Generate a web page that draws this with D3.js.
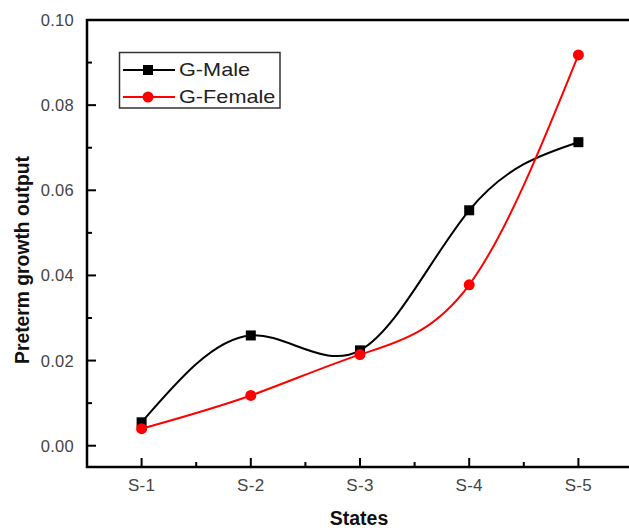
<html>
<head>
    <script src="https://d3js.org/d3.v7.min.js"></script>
    <style>
        body { margin: 0; background: #fff; }
    </style>
</head>
<body>
    <div id="vis"></div>
<script>
    // data
    var states = ["S-1", "S-2", "S-3", "S-4", "S-5"];
    var maleValues = [0.0055, 0.0259, 0.0224, 0.0553, 0.0713];
    var femaleValues = [0.0040, 0.0118, 0.0214, 0.0378, 0.0918];
    var yTicks = [0.00, 0.02, 0.04, 0.06, 0.08, 0.10];

    var W = 629, H = 528;
    var margin = { top: 20, right: -4, bottom: 61, left: 87 };
    var width = W - margin.left - margin.right,
        height = H - margin.top - margin.bottom;

    var svg = d3.select("#vis").append("svg")
        .attr("width", W)
        .attr("height", H)
        .style("font-family", "Arial, 'Liberation Sans', sans-serif");

    var g = svg.append("g")
        .attr("transform", "translate(" + margin.left + "," + margin.top + ")");

    var x = d3.scaleLinear().domain([0.5, 5.5]).range([0, width]);
    var y = d3.scaleLinear().domain([-0.005, 0.10]).range([height, 0]);

    // frame
    g.append("rect")
        .attr("x", 0).attr("y", 0)
        .attr("width", width).attr("height", height)
        .attr("fill", "none")
        .attr("stroke", "#000")
        .attr("stroke-width", 2.5);

    // y axis ticks (inward)
    var yAxis = g.append("g");
    yAxis.selectAll(".maj").data(yTicks).enter().append("line")
        .attr("x1", 0).attr("x2", 9)
        .attr("y1", function (d) { return y(d); })
        .attr("y2", function (d) { return y(d); })
        .attr("stroke", "#000").attr("stroke-width", 2);
    yAxis.selectAll(".min").data(d3.range(0.01, 0.1, 0.02)).enter().append("line")
        .attr("x1", 0).attr("x2", 5)
        .attr("y1", function (d) { return y(d); })
        .attr("y2", function (d) { return y(d); })
        .attr("stroke", "#000").attr("stroke-width", 2);
    yAxis.selectAll("text").data(yTicks).enter().append("text")
        .attr("x", -13)
        .attr("y", function (d) { return y(d); })
        .attr("dy", "0.36em")
        .attr("text-anchor", "end")
        .attr("fill", "#444")
        .style("font-size", "16.5px")
        .style("letter-spacing", "0.3px")
        .text(function (d) { return d3.format(".2f")(d); });

    // x axis ticks (inward)
    var xAxis = g.append("g");
    xAxis.selectAll(".maj").data(states).enter().append("line")
        .attr("x1", function (d, i) { return x(i + 1); })
        .attr("x2", function (d, i) { return x(i + 1); })
        .attr("y1", height).attr("y2", height - 9)
        .attr("stroke", "#000").attr("stroke-width", 2);
    xAxis.selectAll(".min").data([1.5, 2.5, 3.5, 4.5]).enter().append("line")
        .attr("x1", function (d) { return x(d); })
        .attr("x2", function (d) { return x(d); })
        .attr("y1", height).attr("y2", height - 5)
        .attr("stroke", "#000").attr("stroke-width", 2);
    xAxis.selectAll("text").data(states).enter().append("text")
        .attr("x", function (d, i) { return x(i + 1); })
        .attr("y", height + 24)
        .attr("text-anchor", "middle")
        .attr("fill", "#444")
        .style("font-size", "17px")
        .style("letter-spacing", "0.3px")
        .text(function (d) { return d; });

    // axis titles
    svg.append("text")
        .attr("x", 359).attr("y", 525)
        .attr("text-anchor", "middle")
        .attr("fill", "#111")
        .style("font-size", "19.5px")
        .style("font-weight", "bold")
        .text("States");

    svg.append("text")
        .attr("transform", "translate(29,260) rotate(-90)")
        .attr("text-anchor", "middle")
        .attr("fill", "#111")
        .style("font-size", "19.3px")
        .style("font-weight", "bold")
        .text("Preterm growth output");

    // lines
    var line = d3.line()
        .x(function (d, i) { return x(i + 1); })
        .y(function (d) { return y(d); })
        .curve(d3.curveNatural);

    g.append("path").datum(maleValues)
        .attr("d", line)
        .attr("fill", "none")
        .attr("stroke", "#000")
        .attr("stroke-width", 2);

    g.append("path").datum(femaleValues)
        .attr("d", line)
        .attr("fill", "none")
        .attr("stroke", "#ff0000")
        .attr("stroke-width", 2);

    // markers
    g.selectAll(".sq").data(maleValues).enter().append("rect")
        .attr("x", function (d, i) { return x(i + 1) - 5; })
        .attr("y", function (d) { return y(d) - 5; })
        .attr("width", 10).attr("height", 10)
        .attr("fill", "#000");

    g.selectAll(".dot").data(femaleValues).enter().append("circle")
        .attr("cx", function (d, i) { return x(i + 1); })
        .attr("cy", function (d) { return y(d); })
        .attr("r", 5.5)
        .attr("fill", "#ff0000");

    // legend
    var leg = svg.append("g");
    leg.append("rect")
        .attr("x", 119.5).attr("y", 52.5)
        .attr("width", 160.5).attr("height", 55.5)
        .attr("fill", "#fff")
        .attr("stroke", "#333")
        .attr("stroke-width", 1.5);

    leg.append("line")
        .attr("x1", 123).attr("x2", 175)
        .attr("y1", 70).attr("y2", 70)
        .attr("stroke", "#000").attr("stroke-width", 2);
    leg.append("rect")
        .attr("x", 143).attr("y", 65)
        .attr("width", 10).attr("height", 10)
        .attr("fill", "#000");
    leg.append("text")
        .attr("transform", "translate(179,76) scale(1.24,1)")
        .attr("fill", "#222")
        .style("font-size", "17.5px")
        .text("G-Male");

    leg.append("line")
        .attr("x1", 123).attr("x2", 175)
        .attr("y1", 97).attr("y2", 97)
        .attr("stroke", "#ff0000").attr("stroke-width", 2);
    leg.append("circle")
        .attr("cx", 148).attr("cy", 97)
        .attr("r", 5.5)
        .attr("fill", "#ff0000");
    leg.append("text")
        .attr("transform", "translate(179,103) scale(1.24,1)")
        .attr("fill", "#222")
        .style("font-size", "17.5px")
        .text("G-Female");
</script>
</body>
</html>
